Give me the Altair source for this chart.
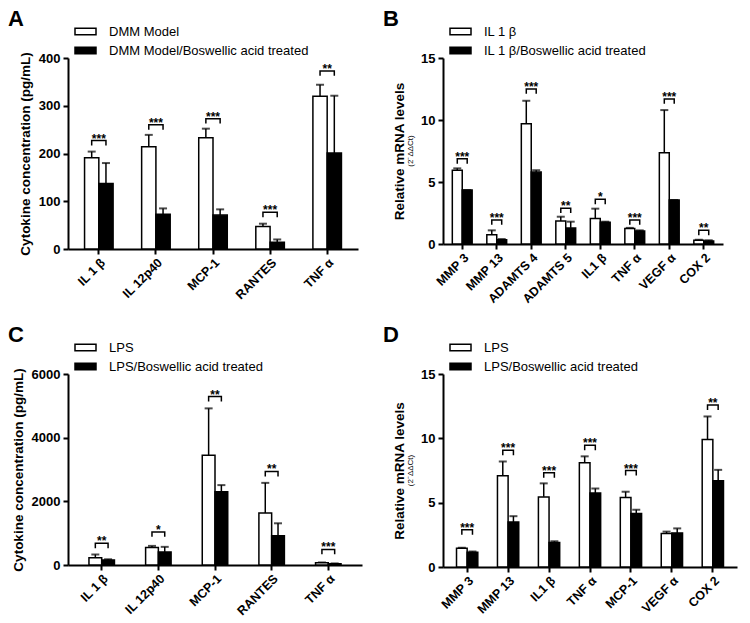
import altair as alt
import pandas as pd

FONT = "Liberation Sans"

# ---------------- Panel A ----------------
A_cats = ["IL 1 β", "IL 12p40", "MCP-1", "RANTES", "TNF α"]
A_groups = ["DMM Model", "DMM Model/Boswellic acid treated"]
A_ctrl = [191, 214, 233, 47, 320]
A_ctrl_err = [13, 25, 19, 6, 24]
A_trt = [137, 73, 71, 14, 201]
A_trt_err = [43, 12, 12, 6, 120]
A_sig = ["***", "***", "***", "***", "**"]
A_sig_y = [227, 260, 273, 77, 373]
A_ticks = [0, 100, 200, 300, 400]

# ---------------- Panel B ----------------
B_cats = ["MMP 3", "MMP 13", "ADAMTS 4", "ADAMTS 5", "IL1 β", "TNF α", "VEGF α", "COX 2"]
B_groups = ["IL 1 β", "IL 1 β/Boswellic acid treated"]
B_ctrl = [5.95, 0.75, 9.7, 1.85, 2.05, 1.25, 7.35, 0.3]
B_ctrl_err = [0.15, 0.35, 1.85, 0.35, 0.8, 0.05, 3.45, 0.05]
B_trt = [4.35, 0.35, 5.8, 1.3, 1.75, 1.05, 3.55, 0.25]
B_trt_err = [0.0, 0.05, 0.15, 0.5, 0.05, 0.05, 0.0, 0.05]
B_sig = ["***", "***", "***", "**", "*", "***", "***", "**"]
B_sig_y = [6.87, 1.94, 12.5, 2.88, 3.6, 1.94, 11.7, 1.1]
B_ticks = [0, 5, 10, 15]

# ---------------- Panel C ----------------
C_cats = ["IL 1 β", "IL 12p40", "MCP-1", "RANTES", "TNF α"]
C_groups = ["LPS", "LPS/Boswellic acid treated"]
C_ctrl = [230, 550, 3450, 1630, 70]
C_ctrl_err = [100, 50, 1470, 950, 10]
C_trt = [160, 410, 2300, 920, 40]
C_trt_err = [20, 160, 210, 390, 10]
C_sig = ["**", "*", "**", "**", "***"]
C_sig_y = [680, 1040, 5290, 2940, 490]
C_ticks = [0, 2000, 4000, 6000]

# ---------------- Panel D ----------------
D_cats = ["MMP 3", "MMP 13", "IL1 β", "TNF α", "MCP-1", "VEGF α", "COX 2"]
D_groups = ["LPS ", "LPS/Boswellic acid treated "]
D_ctrl = [1.45, 7.1, 5.45, 8.1, 5.4, 2.6, 9.9]
D_ctrl_err = [0.05, 1.1, 1.05, 0.5, 0.45, 0.15, 1.8]
D_trt = [1.15, 3.5, 1.9, 5.75, 4.15, 2.65, 6.7]
D_trt_err = [0.05, 0.45, 0.1, 0.35, 0.3, 0.35, 0.85]
D_sig = ["***", "***", "***", "***", "***", "", "**"]
D_sig_y = [2.9, 9.07, 7.33, 9.46, 7.5, 0, 12.6]
D_ticks = [0, 5, 10, 15]

CYTO_TITLE = "Cytokine concentration (pg/mL)"
MRNA_TITLE = "Relative mRNA levels"
MRNA_SUB = "(2⁻ΔΔCt)"

LEGEND_SHAPE = "M-1,-0.3L1,-0.3L1,0.3L-1,0.3Z"


def panel(letter, cats, groups, ctrl, ctrl_err, trt, trt_err, sig, sig_y, ticks,
          ytitle, sub, w, h, pin, pout):
    ymax = ticks[-1]
    rows = []
    for i, c in enumerate(cats):
        rows.append(dict(cat=c, grp=groups[0], v=ctrl[i], top=ctrl[i] + ctrl_err[i]))
        rows.append(dict(cat=c, grp=groups[1], v=trt[i], top=trt[i] + trt_err[i]))
    df = pd.DataFrame(rows)

    leg = ymax * 0.026
    brows, srows = [], []
    for i, c in enumerate(cats):
        if not sig[i]:
            continue
        yv = sig_y[i]
        brows += [
            dict(cat=c, grp=groups[0], y=yv - leg, o=0),
            dict(cat=c, grp=groups[0], y=yv, o=1),
            dict(cat=c, grp=groups[1], y=yv, o=2),
            dict(cat=c, grp=groups[1], y=yv - leg, o=3),
        ]
        srows.append(dict(cat=c, y=yv, s=sig[i]))
    bdf = pd.DataFrame(brows)
    sdf = pd.DataFrame(srows)

    xscale = alt.Scale(domain=cats, paddingInner=pin, paddingOuter=pout)
    xaxis = alt.Axis(title=None, labelAngle=-45, labelAlign="right", labelBaseline="top",
                     labelFontSize=12.5, labelFontWeight="bold", labelFont=FONT,
                     labelColor="black", tickSize=5, tickWidth=2, tickColor="black",
                     domainWidth=2, domainColor="black", labelPadding=2)
    yscale = alt.Scale(domain=[0, ymax], nice=False, zero=True)
    yaxis = alt.Axis(values=ticks, format="d", title=ytitle, titleFont=FONT, titleFontSize=13.5,
                     titleFontWeight="bold", titleColor="black",
                     titlePadding=6 if sub is None else 14,
                     labelFont=FONT, labelFontSize=13, labelFontWeight="bold", labelColor="black",
                     tickSize=5, tickWidth=2, tickColor="black", domainWidth=2,
                     domainColor="black", grid=False, labelPadding=3)
    xo = alt.XOffset("grp:N", sort=groups,
                     scale=alt.Scale(domain=groups, paddingInner=0, paddingOuter=0))

    X = alt.X("cat:N", scale=xscale, axis=xaxis, sort=cats)

    def Y(f):
        return alt.Y(f, scale=yscale, axis=yaxis)

    base = alt.Chart(df)
    bars = base.mark_bar(stroke="black", strokeWidth=1.5).encode(
        x=X, xOffset=xo, y=Y("v:Q"),
        fill=alt.Fill("grp:N", sort=groups,
                      scale=alt.Scale(domain=groups, range=["white", "black"]),
                      legend=alt.Legend(title=None, orient="none", legendX=6, legendY=-38,
                                        symbolType=LEGEND_SHAPE, symbolSize=441,
                                        symbolStrokeColor="black", symbolStrokeWidth=1.5,
                                        labelFont=FONT, labelFontSize=13, labelColor="black",
                                        labelOffset=12, labelLimit=500, rowPadding=0)),
    )
    errs = base.mark_rule(color="black", strokeWidth=1.5).encode(
        x=X, xOffset=xo, y=Y("v:Q"), y2="top:Q",
    )
    caps = base.mark_tick(color="black", thickness=2, size=8).encode(
        x=X, xOffset=xo, y=Y("top:Q"),
    )
    brackets = alt.Chart(bdf).mark_line(color="black", strokeWidth=1.5).encode(
        x=X, xOffset=xo, y=Y("y:Q"), order="o:Q", detail="cat:N",
    )
    stars = alt.Chart(sdf).mark_text(font=FONT, fontSize=12, fontWeight="bold",
                                     baseline="alphabetic", dy=2, color="black").encode(
        x=X, y=Y("y:Q"), text="s:N",
    )
    layers = [errs, caps, bars, brackets, stars]
    if sub is not None:
        subt = alt.Chart(pd.DataFrame({"t": [sub]})).mark_text(
            font=FONT, fontSize=8, angle=270, color="black", baseline="middle").encode(
            text="t:N", x=alt.value(-32), y=alt.value(h / 2))
        layers.append(subt)
    return alt.layer(*layers).properties(
        width=w, height=h,
        title=alt.TitleParams(letter, anchor="start", frame="group", fontSize=22,
                              fontWeight="bold", font=FONT, color="black", dx=-60, offset=-11),
    )


pA = panel("A", A_cats, A_groups, A_ctrl, A_ctrl_err, A_trt, A_trt_err, A_sig, A_sig_y,
           A_ticks, CYTO_TITLE, None, 290, 191, 0.5, 0.29)
pB = panel("B", B_cats, B_groups, B_ctrl, B_ctrl_err, B_trt, B_trt_err, B_sig, B_sig_y,
           B_ticks, MRNA_TITLE, MRNA_SUB, 280, 186, 0.425, 0.27)
pC = panel("C", C_cats, C_groups, C_ctrl, C_ctrl_err, C_trt, C_trt_err, C_sig, C_sig_y,
           C_ticks, CYTO_TITLE, None, 294, 191, 0.55, 0.37)
pD = panel("D", D_cats, D_groups, D_ctrl, D_ctrl_err, D_trt, D_trt_err, D_sig, D_sig_y,
           D_ticks, MRNA_TITLE, MRNA_SUB, 294, 193, 0.48, 0.33)

chart = alt.concat(pA, pB, pC, pD, columns=2,
                   spacing=alt.RowColnumber(row=125, column=81),
                   bounds="flush").resolve_scale(
    x="independent", y="independent", fill="independent", xOffset="independent"
).resolve_legend(fill="independent").configure_view(stroke=None).properties(
    padding={"left": 0, "top": 0, "right": 5, "bottom": 0},
    background="white",
)

chart.save("out.html", embed_options={"renderer": "svg", "actions": False})
